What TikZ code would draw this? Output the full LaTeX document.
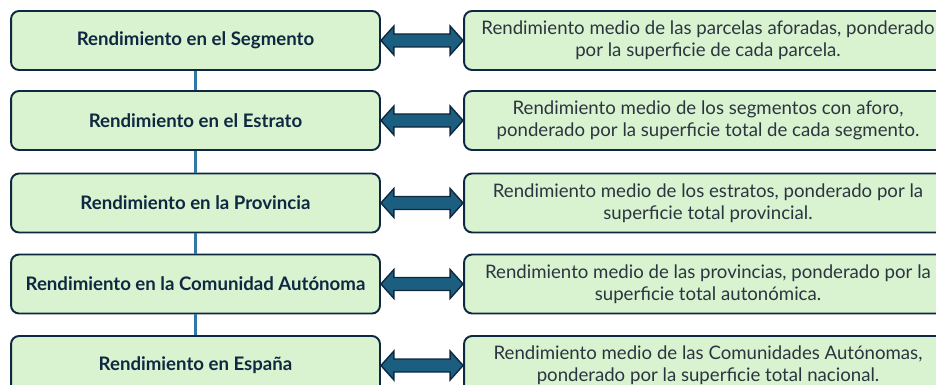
\documentclass[tikz,border=0pt]{standalone}
\usepackage{fontspec}
\setmainfont{Lato}
\usepackage{xcolor}
\usepackage{tikz}
\usetikzlibrary{calc}

\definecolor{boxfill}{HTML}{D9F2D0}
\definecolor{boxline}{HTML}{0E2841}
\definecolor{arrfill}{HTML}{1B5E80}
\definecolor{linkline}{HTML}{2F78A8}
\definecolor{textgrey}{HTML}{2B3540}

\begin{document}
\begin{tikzpicture}[x=0.02cm, y=-0.02cm,
    level/.style={draw=boxline, fill=boxfill, line width=1.1pt, rounded corners=0.16cm, minimum width=7.38cm, minimum height=1.18cm, text=boxline, font=\fontsize{10.6}{12.4}\selectfont\bfseries},
    desc/.style={draw=boxline, fill=boxfill, line width=1.1pt, rounded corners=0.16cm, minimum width=9.76cm, minimum height=1.18cm, align=center, text=textgrey, font=\fontsize{10.6}{12.6}\selectfont, execute at begin node={\rule{0pt}{13pt}}},
    link/.style={draw=linkline, line width=1.2pt},
    blockarr/.style={draw=boxline, fill=arrfill, line width=0.8pt, line join=miter}]
    \useasboundingbox (0, 0) rectangle (936, 385);
    \clip (0, 0) rectangle (936, 385);

    \node[level] at (195.5, 40.5) (seg) {Rendimiento en el Segmento};
    \node[level] at (195.5, 120.5) (est) {Rendimiento en el Estrato};
    \node[level] at (195.5, 203) (prov) {Rendimiento en la Provincia};
    \node[level] at (195.5, 284) (ccaa) {Rendimiento en la Comunidad Autónoma};
    \node[level] at (195.5, 365.5) (esp) {Rendimiento en España};

    \node[desc] at (708, 40.5) (dseg) {Rendimiento medio de las parcelas aforadas, ponderado\\por la superficie de cada parcela.};
    \node[desc] at (708, 120.5) (dest) {Rendimiento medio de los segmentos con aforo,\\ponderado por la superficie total de cada segmento.};
    \node[desc] at (708, 203) (dprov) {Rendimiento medio de los estratos, ponderado por la\\superficie total provincial.};
    \node[desc] at (708, 284) (dccaa) {Rendimiento medio de las provincias, ponderado por la\\superficie total autonómica.};
    \node[desc] at (708, 365.5) (desp) {Rendimiento medio de las Comunidades Autónomas,\\ponderado por la superficie total nacional.};

    \draw[link] (seg) -- (est);
    \draw[link] (est) -- (prov);
    \draw[link] (prov) -- (ccaa);
    \draw[link] (ccaa) -- (esp);

    \draw[blockarr] (seg.east) -- ++(13,-14.5) -- ++(0,8) -- ($(dseg.west)+(-13,-6.5)$) -- ++(0,-8) -- (dseg.west) -- ++(-13,14.5) -- ++(0,-8) -- ($(seg.east)+(13,6.5)$) -- ++(0,8) -- cycle;
    \draw[blockarr] (est.east) -- ++(13,-14.5) -- ++(0,8) -- ($(dest.west)+(-13,-6.5)$) -- ++(0,-8) -- (dest.west) -- ++(-13,14.5) -- ++(0,-8) -- ($(est.east)+(13,6.5)$) -- ++(0,8) -- cycle;
    \draw[blockarr] (prov.east) -- ++(13,-14.5) -- ++(0,8) -- ($(dprov.west)+(-13,-6.5)$) -- ++(0,-8) -- (dprov.west) -- ++(-13,14.5) -- ++(0,-8) -- ($(prov.east)+(13,6.5)$) -- ++(0,8) -- cycle;
    \draw[blockarr] (ccaa.east) -- ++(13,-14.5) -- ++(0,8) -- ($(dccaa.west)+(-13,-6.5)$) -- ++(0,-8) -- (dccaa.west) -- ++(-13,14.5) -- ++(0,-8) -- ($(ccaa.east)+(13,6.5)$) -- ++(0,8) -- cycle;
    \draw[blockarr] (esp.east) -- ++(13,-14.5) -- ++(0,8) -- ($(desp.west)+(-13,-6.5)$) -- ++(0,-8) -- (desp.west) -- ++(-13,14.5) -- ++(0,-8) -- ($(esp.east)+(13,6.5)$) -- ++(0,8) -- cycle;
\end{tikzpicture}
\end{document}
